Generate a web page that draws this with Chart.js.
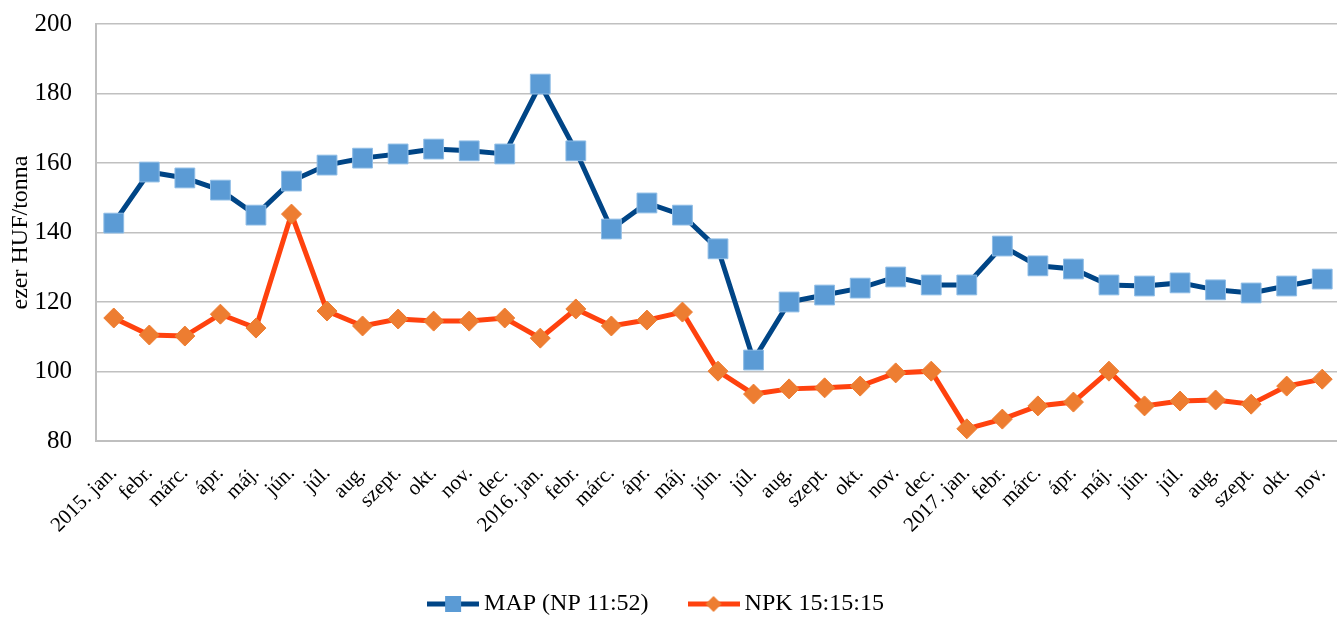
<!DOCTYPE html>
<html>
<head>
<meta charset="utf-8">
<script src="https://cdn.jsdelivr.net/npm/chart.js@4/dist/chart.umd.min.js"></script>
<style>
  html, body { margin: 0; padding: 0; background: #fff; overflow: hidden; }
  #wrap { width: 1337px; height: 617px; position: relative; }
  #grafikon { display: block; }
</style>
</head>
<body>
<div id="wrap"><canvas id="grafikon"></canvas></div>
<script>
// ── ADATOK ─────────────────────────────────────────────
const honapok = [
    '2015. jan.', 'febr.', 'márc.', 'ápr.', 'máj.', 'jún.', 'júl.', 'aug.', 'szept.', 'okt.', 'nov.', 'dec.',
    '2016. jan.', 'febr.', 'márc.', 'ápr.', 'máj.', 'jún.', 'júl.', 'aug.', 'szept.', 'okt.', 'nov.', 'dec.',
    '2017. jan.', 'febr.', 'márc.', 'ápr.', 'máj.', 'jún.', 'júl.', 'aug.', 'szept.', 'okt.', 'nov.'
];

const mapArak = [
    142.7, 157.4, 155.7, 152.2, 145.0, 154.8, 159.4, 161.4, 162.6, 164.0, 163.5, 162.6,
    182.7, 163.5, 141.0, 148.5, 145.0, 135.3, 103.3, 120.0, 122.0, 124.0, 127.2, 124.9,
    124.9, 136.1, 130.4, 129.5, 124.9, 124.6, 125.5, 123.5, 122.6, 124.6, 126.6
];

const npkArak = [
    115.4, 110.5, 110.2, 116.5, 112.5, 145.3, 117.4, 113.1, 115.1, 114.5, 114.5, 115.4,
    109.6, 118.0, 113.1, 114.8, 117.1, 100.1, 93.5, 95.0, 95.3, 95.8, 99.6, 100.1,
    83.5, 86.3, 90.1, 91.2, 100.1, 90.1, 91.5, 91.8, 90.6, 95.8, 97.8
];

const yTengely = { min: 80, max: 200, lepes: 20 };

const betu = 'Liberation Serif, Times New Roman, serif';

// ── JELMAGYARÁZAT IKONOK (vonal + jelölő) ──────────────
function ikon(vonalSzin, jelSzin, forma) {
    const c = document.createElement('canvas');
    c.width = 52; c.height = 18;
    const ctx = c.getContext('2d');
    ctx.strokeStyle = vonalSzin;
    ctx.lineWidth = 5;
    ctx.beginPath();
    ctx.moveTo(0, 9); ctx.lineTo(52, 9);
    ctx.stroke();
    ctx.fillStyle = jelSzin;
    ctx.beginPath();
    if (forma === 'negyzet') {
        ctx.rect(18, 1, 16, 16);
    } else {
        ctx.moveTo(26, 1); ctx.lineTo(34, 9); ctx.lineTo(26, 17); ctx.lineTo(18, 9); ctx.closePath();
    }
    ctx.fill();
    return c;
}

const ikonMap = ikon('#004586', '#5b9bd5', 'negyzet');
const ikonNpk = ikon('#ff420e', '#ed7d31', 'rombusz');

// a rajzterület a jobb szélig ér, a jelmagyarázat kicsit balra tolva
const elrendezes = {
    id: 'elrendezes',
    afterLayout(chart) {
        const ca = chart.chartArea;
        ca.right = chart.width + 3;
        ca.width = ca.right - ca.left;
        const x = chart.scales.x;
        x.right = ca.right;
        x.width = ca.width;
        x.configure();

        chart.legend.left -= 11;
        chart.legend.right -= 11;
    }
};

new Chart(document.getElementById('grafikon'), {
    type: 'line',
    data: {
        labels: honapok,
        datasets: [
            {
                label: 'MAP (NP 11:52)',
                data: mapArak,
                borderColor: '#004586',
                borderWidth: 5,
                backgroundColor: '#5b9bd5',
                pointStyle: 'rect',
                pointRadius: 14,
                pointBorderColor: '#8fbde6',
                pointBorderWidth: 1,
                pointHoverRadius: 14,
                tension: 0
            },
            {
                label: 'NPK 15:15:15',
                data: npkArak,
                borderColor: '#ff420e',
                borderWidth: 5,
                backgroundColor: '#ed7d31',
                pointStyle: 'rectRot',
                pointRadius: 10,
                pointBorderColor: '#ed7d31',
                pointBorderWidth: 1,
                pointHoverRadius: 10,
                tension: 0
            }
        ]
    },
    plugins: [elrendezes],
    options: {
        responsive: true,
        maintainAspectRatio: false,
        animation: false,
        layout: { padding: { top: 24, right: -3, left: 0, bottom: -9 } },
        plugins: {
            tooltip: { enabled: false },
            legend: {
                position: 'bottom',
                labels: {
                    usePointStyle: true,
                    pointStyleWidth: 38,
                    padding: 46,
                    color: '#000',
                    font: { family: betu, size: 24 },
                    generateLabels: (chart) => chart.data.datasets.map((ds, i) => ({
                        text: ds.label,
                        pointStyle: i === 0 ? ikonMap : ikonNpk,
                        fillStyle: 'transparent',
                        strokeStyle: 'transparent',
                        lineWidth: 0,
                        fontColor: '#000',
                        datasetIndex: i
                    }))
                }
            }
        },
        scales: {
            x: {
                offset: true,
                grid: { display: false, drawTicks: false },
                border: { color: '#bfbfbf', width: 2 },
                ticks: {
                    color: '#000',
                    autoSkip: false,
                    minRotation: 45,
                    maxRotation: 45,
                    padding: 20,
                    font: { family: betu, size: 21 }
                },
                afterFit: (s) => {
                    s.height = 105;
                    s.paddingLeft = 0;
                    s.paddingRight = 0;
                }
            },
            y: {
                min: yTengely.min,
                max: yTengely.max,
                grid: { color: '#c0c0c0', lineWidth: 1.5, drawTicks: false },
                border: { color: '#bfbfbf', width: 2 },
                ticks: {
                    stepSize: yTengely.lepes,
                    color: '#000',
                    padding: 24,
                    font: { family: betu, size: 25 }
                },
                title: {
                    display: true,
                    text: 'ezer HUF/tonna',
                    color: '#000',
                    padding: { top: 6, bottom: 0 },
                    font: { family: betu, size: 24 }
                },
                afterFit: (s) => {
                    s.width = 96;
                    s.paddingTop = 0;
                    s.paddingBottom = 0;
                }
            }
        }
    }
});
</script>
</body>
</html>
